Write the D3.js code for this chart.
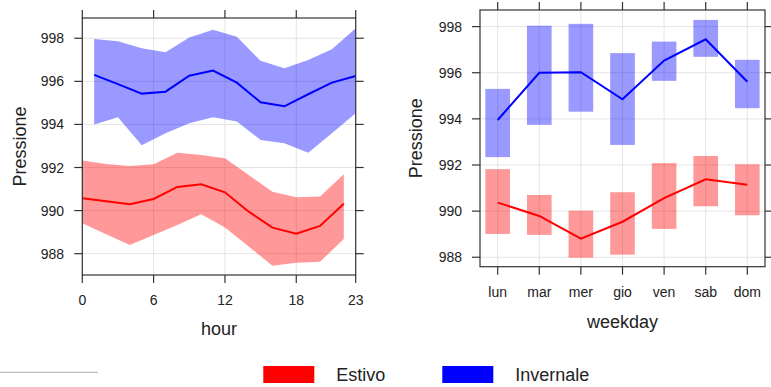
<!DOCTYPE html>
<meta charset="utf-8">
<head>
<script src="https://d3js.org/d3.v7.min.js"></script>
<style>
  body { margin: 0; background: #fff; }
  svg text { font-family: "Liberation Sans", Arial, sans-serif; fill: #222; }
</style>
</head>
<body>
<div id="chart"></div>
<script>
// ---- data ----
var hoursEstivo = [0, 2, 4, 6, 8, 10, 12, 14, 16, 18, 20, 22];
var estivoMean  = [990.57, 990.43, 990.29, 990.54, 991.10, 991.22, 990.85, 989.95, 989.21, 988.93, 989.29, 990.32];
var estivoLow   = [989.41, 988.90, 988.40, 988.87, 989.33, 989.83, 989.22, 988.33, 987.44, 987.58, 987.63, 988.68];
var estivoHigh  = [992.32, 992.16, 992.07, 992.15, 992.69, 992.58, 992.43, 991.65, 990.88, 990.62, 990.65, 991.69];

var hoursInvernale = [1, 3, 5, 7, 9, 11, 13, 15, 17, 19, 21, 23];
var invernaleMean  = [996.30, 995.87, 995.43, 995.52, 996.26, 996.50, 995.94, 995.03, 994.84, 995.40, 995.94, 996.25];
var invernaleLow   = [994.00, 994.33, 993.03, 993.59, 994.05, 994.33, 994.13, 993.28, 993.13, 992.69, 993.59, 994.52];
var invernaleHigh  = [997.97, 997.86, 997.54, 997.35, 998.03, 998.39, 998.07, 996.95, 996.61, 996.99, 997.49, 998.46];

var weekdays = ["lun", "mar", "mer", "gio", "ven", "sab", "dom"];
var wdEstivoMean  = [990.37, 989.79, 988.81, 989.54, 990.56, 991.38, 991.14];
var wdEstivoLow   = [989.01, 988.97, 987.98, 988.11, 989.23, 990.21, 989.82];
var wdEstivoHigh  = [991.82, 990.70, 990.02, 990.82, 992.08, 992.39, 992.03];
var wdInvernaleMean = [993.95, 996.00, 996.02, 994.85, 996.53, 997.45, 995.61];
var wdInvernaleLow  = [992.34, 993.74, 994.31, 992.87, 995.65, 996.69, 994.46];
var wdInvernaleHigh = [995.30, 998.04, 998.12, 996.85, 997.35, 998.29, 996.56];

var hourTicks = [0, 6, 12, 18, 23];
var pressTicks = [988, 990, 992, 994, 996, 998];
var seasons = ["Estivo", "Invernale"];
var seasonColors = ["#ff0000", "#0000ff"];

// ---- svg ----
var svg = d3.select("#chart").append("svg")
  .attr("width", 771).attr("height", 387);

var frameColor = "#333", gridColor = "#e4e4e4";

function drawFrame(g, x, y, xTicks, xFmt, left, right, top, bottom, labelGap) {
  // grid
  g.append("g").selectAll("line.gx").data(xTicks).join("line")
    .attr("x1", d => x(d)).attr("x2", d => x(d))
    .attr("y1", top).attr("y2", bottom)
    .attr("stroke", gridColor).attr("stroke-width", 1);
  g.append("g").selectAll("line.gy").data(pressTicks).join("line")
    .attr("x1", left).attr("x2", right)
    .attr("y1", d => y(d)).attr("y2", d => y(d))
    .attr("stroke", gridColor).attr("stroke-width", 1);
}

function drawAxes(g, x, y, xTicks, xFmt, left, right, top, bottom, xLabelY, yLabelX) {
  var tl = 8;
  var ax = g.append("g").attr("stroke", frameColor).attr("stroke-width", 1.2);
  ax.append("rect").attr("x", left).attr("y", top)
    .attr("width", right - left).attr("height", bottom - top)
    .attr("fill", "none");
  xTicks.forEach(function (d) {
    ax.append("line").attr("x1", x(d)).attr("x2", x(d)).attr("y1", bottom).attr("y2", bottom + tl);
    ax.append("line").attr("x1", x(d)).attr("x2", x(d)).attr("y1", top).attr("y2", top - tl);
  });
  pressTicks.forEach(function (d) {
    ax.append("line").attr("x1", left - tl).attr("x2", left).attr("y1", y(d)).attr("y2", y(d));
    ax.append("line").attr("x1", right).attr("x2", right + tl).attr("y1", y(d)).attr("y2", y(d));
  });
  g.append("g").selectAll("text").data(xTicks).join("text")
    .attr("x", d => x(d)).attr("y", xLabelY)
    .attr("text-anchor", "middle").attr("dominant-baseline", "central")
    .attr("font-size", 14).text(xFmt);
  g.append("g").selectAll("text").data(pressTicks).join("text")
    .attr("x", yLabelX).attr("y", d => y(d))
    .attr("text-anchor", "end").attr("dominant-baseline", "central")
    .attr("font-size", 14).text(d => d);
}

// ---- left panel: hour ----
(function () {
  var left = 82.3, right = 355.7, top = 18, bottom = 275;
  var x = d3.scaleLinear().domain([0, 23]).range([left, right]);
  var y = d3.scaleLinear().domain([987.01, 998.94]).range([bottom, top]);
  var g = svg.append("g");
  drawFrame(g, x, y, hourTicks, null, left, right, top, bottom);

  var series = [
    { h: hoursEstivo, m: estivoMean, lo: estivoLow, hi: estivoHigh, c: seasonColors[0] },
    { h: hoursInvernale, m: invernaleMean, lo: invernaleLow, hi: invernaleHigh, c: seasonColors[1] }
  ];
  series.forEach(function (s) {
    var idx = d3.range(s.h.length);
    var area = d3.area().x(i => x(s.h[i])).y0(i => y(s.lo[i])).y1(i => y(s.hi[i]));
    g.append("path").datum(idx).attr("d", area)
      .attr("fill", s.c).attr("fill-opacity", 0.4);
  });
  series.forEach(function (s) {
    var idx = d3.range(s.h.length);
    var line = d3.line().x(i => x(s.h[i])).y(i => y(s.m[i]));
    g.append("path").datum(idx).attr("d", line)
      .attr("fill", "none").attr("stroke", s.c).attr("stroke-width", 2);
  });

  drawAxes(g, x, y, hourTicks, d => d, left, right, top, bottom, 299.5, 64);

  g.append("text").attr("x", (left + right) / 2).attr("y", 329)
    .attr("text-anchor", "middle").attr("dominant-baseline", "central")
    .attr("font-size", 18).text("hour");
  g.append("text").attr("transform", "translate(20," + ((top + bottom) / 2) + ") rotate(-90)")
    .attr("text-anchor", "middle").attr("dominant-baseline", "central")
    .attr("font-size", 18).text("Pressione");
})();

// ---- right panel: weekday ----
(function () {
  var left = 480, right = 765, top = 10, bottom = 266.7;
  var x = d3.scaleLinear().domain([-0.425, 6.425]).range([left, right]);
  var y = d3.scaleLinear().domain([987.59, 998.72]).range([bottom, top]);
  var idx = d3.range(weekdays.length);
  var g = svg.append("g");
  drawFrame(g, x, y, idx, null, left, right, top, bottom);

  var halfW = (x(1) - x(0)) * 0.296;
  var series = [
    { m: wdEstivoMean, lo: wdEstivoLow, hi: wdEstivoHigh, c: seasonColors[0] },
    { m: wdInvernaleMean, lo: wdInvernaleLow, hi: wdInvernaleHigh, c: seasonColors[1] }
  ];
  series.forEach(function (s) {
    g.append("g").selectAll("rect").data(idx).join("rect")
      .attr("x", i => x(i) - halfW).attr("width", halfW * 2)
      .attr("y", i => y(s.hi[i])).attr("height", i => y(s.lo[i]) - y(s.hi[i]))
      .attr("fill", s.c).attr("fill-opacity", 0.4);
  });
  series.forEach(function (s) {
    var line = d3.line().x(i => x(i)).y(i => y(s.m[i]));
    g.append("path").datum(idx).attr("d", line)
      .attr("fill", "none").attr("stroke", s.c).attr("stroke-width", 2);
  });

  drawAxes(g, x, y, idx, i => weekdays[i], left, right, top, bottom, 291.7, 462);

  g.append("text").attr("x", (left + right) / 2).attr("y", 321.7)
    .attr("text-anchor", "middle").attr("dominant-baseline", "central")
    .attr("font-size", 18).text("weekday");
  g.append("text").attr("transform", "translate(416," + ((top + bottom) / 2) + ") rotate(-90)")
    .attr("text-anchor", "middle").attr("dominant-baseline", "central")
    .attr("font-size", 18).text("Pressione");
})();

// ---- legend ----
svg.append("line").attr("x1", 0).attr("x2", 98).attr("y1", 372.3).attr("y2", 372.3)
  .attr("stroke", "#aaa").attr("stroke-width", 1);
var legendX = [263.3, 442.3];
seasons.forEach(function (s, i) {
  svg.append("rect").attr("x", legendX[i]).attr("y", 366)
    .attr("width", 51).attr("height", 17).attr("fill", seasonColors[i]);
  svg.append("text").attr("x", legendX[i] + 73).attr("y", 375)
    .attr("dominant-baseline", "central").attr("font-size", 18).text(s);
});
</script>
</body>
